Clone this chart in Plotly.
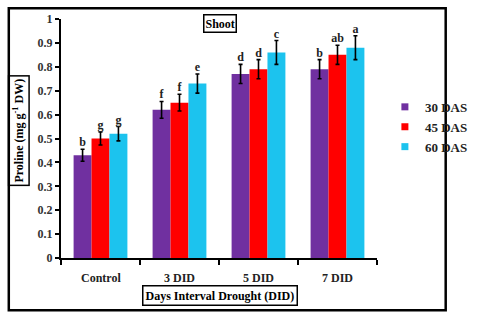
import plotly.graph_objects as go

categories = ["Control", "3 DID", "5 DID", "7 DID"]
series_names = ["30 DAS", "45 DAS", "60 DAS"]
das30 = [0.43, 0.62, 0.77, 0.79]
das45 = [0.50, 0.65, 0.79, 0.85]
das60 = [0.52, 0.73, 0.86, 0.88]
err30 = [0.025, 0.035, 0.04, 0.04]
err45 = [0.027, 0.035, 0.04, 0.04]
err60 = [0.03, 0.04, 0.05, 0.05]
letters30 = ["b", "f", "d", "b"]
letters45 = ["g", "f", "d", "ab"]
letters60 = ["g", "e", "c", "a"]
y_ticks = [0, 0.1, 0.2, 0.3, 0.4, 0.5, 0.6, 0.7, 0.8, 0.9, 1]
y_ticklabels = ["0", "0.1", "0.2", "0.3", "0.4", "0.5", "0.6", "0.7", "0.8", "0.9", "1"]

colors = ["#7030A0", "#FF0000", "#1CC3EE"]
FONT = "Liberation Serif, Times New Roman, serif"
W = 0.227
offsets = [-W, 0.0, W]

fig = go.Figure()
xs = list(range(len(categories)))
for vals, errs, labs, name, col, off in zip(
    [das30, das45, das60], [err30, err45, err60], [letters30, letters45, letters60],
    series_names, colors, offsets):
    fig.add_trace(go.Bar(
        x=[x + off for x in xs], y=vals, width=W, name=name, showlegend=False,
        marker=dict(color=col, line=dict(width=0)),
        error_y=dict(type="data", array=errs, color="black", thickness=1.6, width=2),
    ))
    fig.add_trace(go.Scatter(
        x=[x + off for x in xs], y=[v + e for v, e in zip(vals, errs)],
        mode="text", text=[f"<b>{l}</b>" for l in labs], textposition="top center",
        textfont=dict(family=FONT, size=12, color="#222"),
        showlegend=False, hoverinfo="skip",
    ))
    # legend entry with small square marker
    fig.add_trace(go.Scatter(
        x=[None], y=[None], mode="markers", name=f"<b>{name}</b>",
        marker=dict(symbol="square", size=7, color=col),
        showlegend=True, hoverinfo="skip",
    ))

boundaries = [i - 0.5 for i in range(len(categories) + 1)]
fig.update_layout(
    width=485, height=315, autosize=False,
    margin=dict(l=61, r=79, t=15, b=57),
    paper_bgcolor="white", plot_bgcolor="white",
    font=dict(family=FONT, color="black", size=11),
    showlegend=True,
    legend=dict(x=1.025, y=0.695, xanchor="left", yanchor="top",
                font=dict(family=FONT, size=13, color="#222"),
                itemwidth=30, tracegroupgap=0, bgcolor="rgba(0,0,0,0)"),
    xaxis=dict(range=[-0.5, 3.5], tickvals=boundaries, ticktext=[""] * len(boundaries),
               ticks="outside", ticklen=5, tickwidth=1.5, tickcolor="black",
               showline=True, linecolor="black", linewidth=2, showgrid=False,
               zeroline=False, fixedrange=True),
    yaxis=dict(range=[0, 1], tickvals=y_ticks, ticktext=[f"<b>{t}</b>" for t in y_ticklabels],
               ticks="outside", ticklen=4, tickwidth=1.5, tickcolor="black",
               showline=True, linecolor="black", linewidth=2, showgrid=False,
               zeroline=False, tickfont=dict(family=FONT, size=12, color="#333")),
)

for i, c in enumerate(categories):
    fig.add_annotation(x=i, y=-0.045, xref="x", yref="paper", text=f"<b>{c}</b>",
                       showarrow=False, yanchor="top",
                       font=dict(family=FONT, size=12, color="#222"))

fig.add_annotation(x=0.504, y=0.98, xref="paper", yref="paper", text="<b>Shoot</b>",
                   showarrow=False, yanchor="middle", xanchor="center",
                   bordercolor="black", borderwidth=1.5, borderpad=1,
                   font=dict(family=FONT, size=12, color="black"))
fig.add_annotation(x=0.504, y=-0.115, xref="paper", yref="paper",
                   text="<b>Days Interval Drought (DID)</b>",
                   showarrow=False, yanchor="top", xanchor="center",
                   bordercolor="black", borderwidth=1.5, borderpad=2,
                   font=dict(family=FONT, size=12, color="black"))
fig.add_annotation(x=-0.133, y=0.535, xref="paper", yref="paper",
                   text="<b>Proline (mg g<sup>-1</sup> DW)</b>", textangle=-90,
                   showarrow=False, yanchor="middle", xanchor="center",
                   bordercolor="black", borderwidth=1.5, borderpad=2,
                   font=dict(family=FONT, size=12, color="black"))

fig.add_shape(type="rect", xref="paper", yref="paper",
              x0=(4 - 61) / 345, x1=(481 - 61) / 345,
              y0=(258 - 311) / 243, y1=(258 - 4) / 243,
              line=dict(color="black", width=2.5), layer="below")

fig.write_html("out.html", config={"displayModeBar": False},
               post_script="document.body.style.margin='0';document.body.style.padding='0';")
